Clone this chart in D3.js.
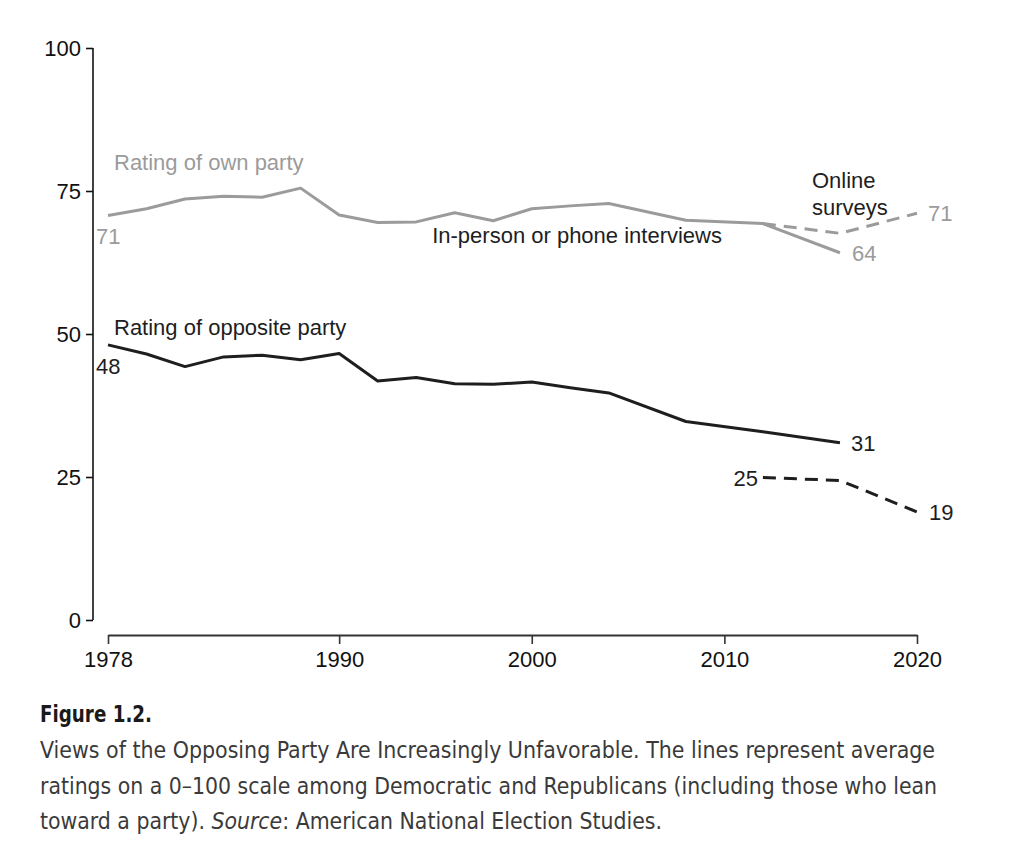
<!DOCTYPE html>
<html>
<head>
<meta charset="utf-8">
<script src="https://cdn.jsdelivr.net/npm/d3@7"></script>
<style>
  html, body { margin: 0; padding: 0; background: #fff; }
  svg { display: block; }
</style>
</head>
<body>
<svg id="chart" width="1024" height="866"></svg>
<script>
// ---- Data ----
const years = [1978, 1980, 1982, 1984, 1986, 1988, 1990, 1992, 1994, 1996, 1998, 2000, 2002, 2004, 2008, 2012, 2016];
const ownParty = [70.7, 71.9, 73.6, 74.1, 73.9, 75.5, 70.8, 69.5, 69.6, 71.2, 69.8, 71.9, 72.4, 72.8, 69.9, 69.3, 64.2];
const oppositeParty = [48.1, 46.5, 44.3, 46.0, 46.3, 45.5, 46.6, 41.8, 42.4, 41.3, 41.2, 41.6, 40.6, 39.7, 34.7, 32.9, 31.0];
const onlineYears = [2012, 2016, 2020];
const ownOnline = [69.3, 67.6, 71.1];
const oppositeOnline = [24.9, 24.4, 18.9];
const yTicks = [0, 25, 50, 75, 100];
const xTicks = [1978, 1990, 2000, 2010, 2020];
const captionTitle = "Figure 1.2.";
const captionLines = [
  "Views of the Opposing Party Are Increasingly Unfavorable. The lines represent average",
  "ratings on a 0\u2013100 scale among Democratic and Republicans (including those who lean"
];

const svg = d3.select("#chart");
const x = d3.scaleLinear().domain([1978, 2020]).range([108, 917]);
const y = d3.scaleLinear().domain([0, 100]).range([620, 48]);

const GRAY = "#9b9b9b";
const DARK = "#1e1e1e";
const labelFont = "'Liberation Sans', Arial, Helvetica, sans-serif";

// ---- Y axis ----
const yAxis = d3.axisLeft(y).tickValues(yTicks).tickSize(7).tickPadding(5);
const gy = svg.append("g").attr("transform", "translate(93,0)").call(yAxis);
gy.select(".domain").attr("stroke", "#111").attr("stroke-width", 1.6).attr("d", `M0,${y(100)}V${y(0)}`);
gy.selectAll(".tick line").attr("stroke", "#111").attr("stroke-width", 1.6);
gy.selectAll(".tick text").attr("font-family", labelFont).attr("font-size", 22).attr("fill", "#111").attr("dy", "0.34em");

// ---- X axis ----
const xAxis = d3.axisBottom(x).tickValues(xTicks).tickFormat(d3.format("d")).tickSize(9).tickSizeOuter(0).tickPadding(5);
const gx = svg.append("g").attr("transform", "translate(0,635)").call(xAxis);
gx.select(".domain").attr("stroke", "#333").attr("stroke-width", 2);
gx.selectAll(".tick line").attr("stroke", "#333").attr("stroke-width", 1.6);
gx.selectAll(".tick text").attr("font-family", labelFont).attr("font-size", 22).attr("fill", "#111").attr("dy", "0.82em");

// ---- Lines ----
const line = d3.line().x(d => x(d[0])).y(d => y(d[1]));
const zip = (a, b) => a.map((v, i) => [v, b[i]]);

svg.append("path").datum(zip(years, ownParty))
  .attr("d", line).attr("fill", "none").attr("stroke", GRAY).attr("stroke-width", 3).attr("stroke-linejoin", "round");
svg.append("path").datum(zip(onlineYears, ownOnline))
  .attr("d", line).attr("fill", "none").attr("stroke", GRAY).attr("stroke-width", 3).attr("stroke-dasharray", "13,8");
svg.append("path").datum(zip(years, oppositeParty))
  .attr("d", line).attr("fill", "none").attr("stroke", DARK).attr("stroke-width", 3).attr("stroke-linejoin", "round");
svg.append("path").datum(zip(onlineYears, oppositeOnline))
  .attr("d", line).attr("fill", "none").attr("stroke", DARK).attr("stroke-width", 3).attr("stroke-dasharray", "13,8");

// ---- Annotations ----
function label(txt, px, py, color, anchor) {
  svg.append("text").attr("x", px).attr("y", py).attr("fill", color)
    .attr("font-family", labelFont).attr("font-size", 22)
    .attr("text-anchor", anchor || "start").text(txt);
}
const lastIdx = years.length - 1;
label("Rating of own party", 114, 170, GRAY);
label(String(Math.round(ownParty[0])), 96, y(ownParty[0]) + 28, GRAY);
label("In-person or phone interviews", 722, 243, DARK, "end");
label("Online", 812, 188, DARK);
label("surveys", 812, 215, DARK);
label(String(Math.round(ownOnline[2])), x(2020) + 11, y(ownOnline[2]) + 8, GRAY);
label(String(Math.round(ownParty[lastIdx])), x(2016) + 12, y(ownParty[lastIdx]) + 8, GRAY);

label("Rating of opposite party", 114, 335, DARK);
label(String(Math.round(oppositeParty[0])), 96, y(oppositeParty[0]) + 29, DARK);
label(String(Math.round(oppositeParty[lastIdx])), x(2016) + 11, y(oppositeParty[lastIdx]) + 8, DARK);
label(String(Math.round(oppositeOnline[0])), x(2012) - 5, y(oppositeOnline[0]) + 8, DARK, "end");
label(String(Math.round(oppositeOnline[2])), x(2020) + 12, y(oppositeOnline[2]) + 8, DARK);

// ---- Caption ----
const capFont = "'DejaVu Sans Condensed', Roboto, 'Noto Sans', sans-serif";
svg.append("text").attr("x", 40).attr("y", 722)
  .attr("font-family", capFont).attr("font-weight", "bold").attr("font-size", 23.5)
  .attr("fill", "#1a1a1a").attr("textLength", 112).attr("lengthAdjust", "spacingAndGlyphs")
  .text(captionTitle);
const capY = [758, 794];
const capW = [895, 897];
captionLines.forEach((t, i) => {
  svg.append("text").attr("x", 40).attr("y", capY[i])
    .attr("font-family", capFont).attr("font-size", 23.5).attr("fill", "#3a3a3a")
    .attr("textLength", capW[i]).attr("lengthAdjust", "spacingAndGlyphs")
    .text(t);
});
const l3 = svg.append("text").attr("x", 40).attr("y", 829)
  .attr("font-family", capFont).attr("font-size", 23.5).attr("fill", "#3a3a3a")
  .attr("textLength", 622).attr("lengthAdjust", "spacingAndGlyphs");
l3.append("tspan").text("toward a party). ");
l3.append("tspan").attr("font-style", "italic").text("Source");
l3.append("tspan").text(": American National Election Studies.");
</script>
</body>
</html>
